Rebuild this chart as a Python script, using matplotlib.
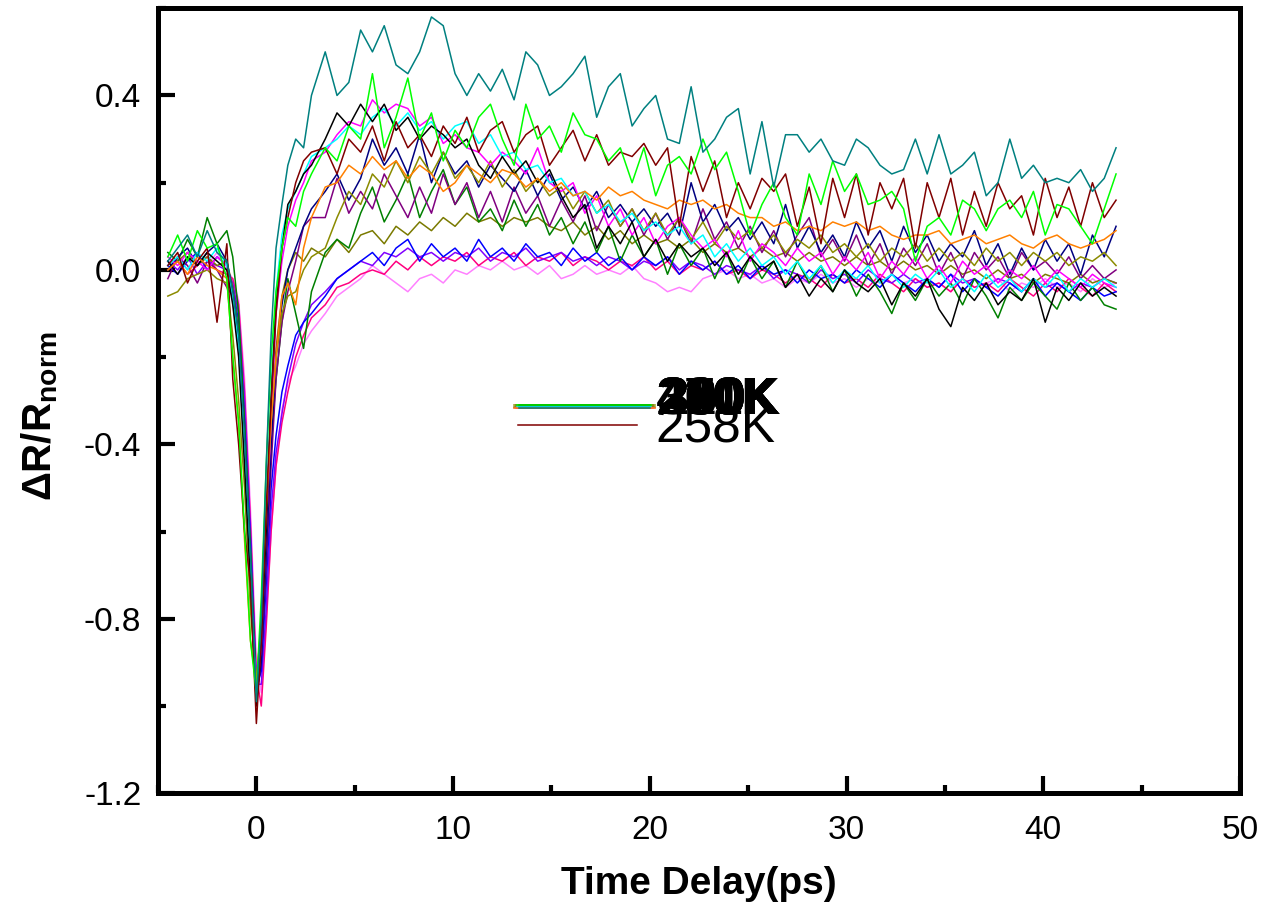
import matplotlib
matplotlib.use("Agg")
import matplotlib.pyplot as plt
from matplotlib.ticker import MultipleLocator

plt.rcParams["font.family"] = ["Liberation Sans", "DejaVu Sans"]
plt.rcParams["mathtext.fontset"] = "custom"
plt.rcParams["mathtext.rm"] = "Liberation Sans"
plt.rcParams["mathtext.bf"] = "Liberation Sans:bold"

# time delay grid (ps)
t_ps = [-4.5, -4.0, -3.5, -3.0, -2.5, -2.0, -1.5,
        -1.2, -0.9, -0.6, -0.3, 0.0, 0.25, 0.5,
        0.75, 1.0, 1.3, 1.6, 2.0, 2.4, 2.8,
        3.5, 4.1, 4.7, 5.3, 5.9, 6.5, 7.1, 7.7, 8.3, 8.9,
        9.5, 10.1, 10.7, 11.3, 11.9, 12.5, 13.1, 13.7, 14.3, 14.9,
        15.5, 16.1, 16.7, 17.3, 17.9, 18.5, 19.1, 19.7, 20.3, 20.9,
        21.5, 22.1, 22.7, 23.3, 23.9, 24.5, 25.1, 25.7, 26.3, 26.9,
        27.5, 28.1, 28.7, 29.3, 29.9, 30.5, 31.1, 31.7, 32.3, 32.9,
        33.5, 34.1, 34.7, 35.3, 35.9, 36.5, 37.1, 37.7, 38.3, 38.9,
        39.5, 40.1, 40.7, 41.3, 41.9, 42.5, 43.1, 43.7]

teal = [0.02, 0.05, 0.08, 0.03, 0.09, 0.04, 0.02,
        -0.05, -0.15, -0.38, -0.65, -0.99, -0.80, -0.45,
        -0.15, 0.05, 0.15, 0.24, 0.30, 0.28, 0.40,
        0.50, 0.40, 0.43, 0.55, 0.50, 0.56, 0.47, 0.45, 0.50, 0.58,
        0.56, 0.45, 0.40, 0.45, 0.41, 0.46, 0.39, 0.50, 0.47, 0.40,
        0.42, 0.45, 0.49, 0.35, 0.42, 0.45, 0.33, 0.37, 0.40, 0.30,
        0.29, 0.42, 0.27, 0.30, 0.35, 0.37, 0.22, 0.34, 0.19, 0.31,
        0.31, 0.27, 0.30, 0.25, 0.24, 0.30, 0.28, 0.24, 0.22, 0.23,
        0.30, 0.22, 0.31, 0.22, 0.24, 0.27, 0.17, 0.20, 0.30, 0.21,
        0.24, 0.20, 0.21, 0.20, 0.23, 0.18, 0.21, 0.28]

lime = [0.03, 0.08, 0.02, 0.09, 0.05, 0.06, -0.02,
        -0.20, -0.35, -0.60, -0.85, -0.97, -0.75, -0.45,
        -0.20, -0.05, 0.05, 0.12, 0.10, 0.18, 0.22,
        0.28, 0.25, 0.33, 0.30, 0.45, 0.28, 0.35, 0.44, 0.30, 0.36,
        0.25, 0.32, 0.28, 0.35, 0.38, 0.30, 0.24, 0.38, 0.30, 0.33,
        0.27, 0.36, 0.31, 0.30, 0.25, 0.28, 0.20, 0.28, 0.17, 0.24,
        0.26, 0.22, 0.30, 0.23, 0.27, 0.18, 0.08, 0.15, 0.20, 0.12,
        0.08, 0.22, 0.15, 0.25, 0.18, 0.22, 0.15, 0.16, 0.18, 0.14,
        0.02, 0.10, 0.12, 0.08, 0.16, 0.14, 0.09, 0.14, 0.16, 0.12,
        0.18, 0.08, 0.15, 0.14, 0.10, 0.06, 0.14, 0.22]

wine = [0.01, 0.04, -0.03, 0.02, 0.05, -0.12, 0.06,
        -0.25, -0.40, -0.60, -0.72, -1.04, -0.85, -0.55,
        -0.30, -0.10, 0.05, 0.12, 0.20, 0.25, 0.27,
        0.28, 0.22, 0.30, 0.27, 0.33, 0.25, 0.34, 0.28, 0.31, 0.26,
        0.33, 0.29, 0.35, 0.27, 0.32, 0.34, 0.27, 0.31, 0.33, 0.24,
        0.28, 0.32, 0.25, 0.31, 0.24, 0.27, 0.26, 0.29, 0.24, 0.28,
        0.10, 0.26, 0.18, 0.25, 0.12, 0.20, 0.14, 0.21, 0.18, 0.22,
        0.10, 0.19, 0.06, 0.21, 0.12, 0.22, 0.08, 0.20, 0.14, 0.21,
        0.05, 0.20, 0.12, 0.21, 0.08, 0.18, 0.10, 0.20, 0.14, 0.17,
        0.08, 0.21, 0.12, 0.19, 0.10, 0.20, 0.12, 0.16]

orange = [0.00, 0.02, -0.01, 0.03, 0.01, 0.00, -0.02,
          -0.20, -0.35, -0.62, -0.85, -0.95, -0.80, -0.55,
          -0.35, -0.20, -0.06, -0.03, -0.08, 0.05, 0.12,
          0.19, 0.20, 0.24, 0.22, 0.26, 0.23, 0.25, 0.21, 0.24, 0.22,
          0.18, 0.20, 0.24, 0.22, 0.20, 0.23, 0.22, 0.19, 0.21, 0.18,
          0.20, 0.17, 0.18, 0.16, 0.19, 0.17, 0.18, 0.16, 0.15, 0.14,
          0.16, 0.15, 0.16, 0.14, 0.15, 0.13, 0.12, 0.12, 0.10, 0.11,
          0.09, 0.10, 0.09, 0.11, 0.10, 0.11, 0.09, 0.10, 0.08, 0.07,
          0.08, 0.08, 0.09, 0.06, 0.07, 0.08, 0.06, 0.07, 0.08, 0.06,
          0.05, 0.07, 0.08, 0.06, 0.05, 0.06, 0.07, 0.09]

black = [0.02, -0.01, 0.03, 0.01, 0.04, 0.02, 0.00,
         -0.08, -0.20, -0.45, -0.72, -1.00, -0.85, -0.60,
         -0.30, -0.08, 0.05, 0.15, 0.18, 0.22, 0.24,
         0.30, 0.36, 0.33, 0.38, 0.34, 0.38, 0.32, 0.35, 0.30, 0.33,
         0.31, 0.28, 0.30, 0.24, 0.21, 0.26, 0.22, 0.25, 0.20, 0.23,
         0.17, 0.12, 0.15, 0.05, 0.10, 0.06, 0.11, 0.03, 0.07, 0.02,
         0.06, 0.03, 0.05, 0.01, 0.04, -0.01, 0.03, 0.00, 0.02, -0.04,
         -0.01, -0.06, -0.02, -0.05, 0.00, -0.03, -0.05, -0.02, -0.08, -0.03,
         -0.06, -0.02, -0.09, -0.13, -0.04, -0.07, -0.03, -0.08, -0.05, -0.07,
         -0.02, -0.12, -0.04, -0.07, -0.03, -0.06, -0.04, -0.06]

cyan = [0.01, 0.03, 0.00, 0.04, 0.02, 0.05, 0.01,
        -0.06, -0.18, -0.42, -0.70, -0.98, -0.82, -0.55,
        -0.28, -0.05, 0.08, 0.14, 0.18, 0.22, 0.26,
        0.28, 0.30, 0.33, 0.31, 0.35, 0.37, 0.33, 0.36, 0.32, 0.34,
        0.30, 0.33, 0.34, 0.29, 0.31, 0.26, 0.27, 0.23, 0.24, 0.20,
        0.21, 0.17, 0.18, 0.13, 0.15, 0.11, 0.13, 0.09, 0.11, 0.08,
        0.10, 0.06, 0.08, 0.03, 0.06, 0.02, 0.05, 0.01, 0.03, -0.01,
        0.02, -0.02, 0.01, -0.03, 0.00, -0.02, 0.01, -0.03, -0.01, -0.04,
        -0.01, -0.03, 0.00, -0.04, -0.02, -0.05, -0.01, -0.04, -0.02, -0.05,
        -0.02, -0.04, -0.01, -0.05, -0.02, -0.04, -0.02, -0.04]

magenta = [0.03, 0.01, 0.04, 0.02, 0.00, 0.03, 0.01,
           -0.07, -0.18, -0.42, -0.70, -0.99, -0.86, -0.60,
           -0.35, -0.10, 0.02, 0.10, 0.16, 0.20, 0.25,
           0.27, 0.31, 0.34, 0.33, 0.39, 0.36, 0.38, 0.37, 0.33, 0.35,
           0.29, 0.31, 0.28, 0.27, 0.24, 0.27, 0.25, 0.22, 0.28, 0.20,
           0.18, 0.20, 0.13, 0.17, 0.10, 0.14, 0.08, 0.12, 0.06, 0.10,
           0.12, 0.08, 0.05, 0.07, 0.03, 0.09, 0.02, 0.06, 0.04, 0.01,
           0.05, 0.02, 0.04, -0.01, 0.03, 0.00, 0.04, -0.02, 0.02, -0.01,
           0.03, -0.02, 0.01, -0.03, 0.02, -0.01, 0.01, -0.03, 0.00, -0.02,
           0.01, -0.03, 0.00, -0.02, -0.04, -0.01, -0.03, -0.04]

navy = [0.00, 0.03, 0.05, 0.01, 0.04, 0.06, 0.02,
        -0.05, -0.15, -0.38, -0.66, -0.98, -0.90, -0.65,
        -0.40, -0.20, -0.08, 0.00, 0.05, 0.10, 0.14,
        0.18, 0.22, 0.16, 0.21, 0.30, 0.24, 0.28, 0.22, 0.31, 0.20,
        0.27, 0.22, 0.25, 0.19, 0.24, 0.21, 0.18, 0.23, 0.17, 0.22,
        0.16, 0.19, 0.14, 0.18, 0.12, 0.15, 0.11, 0.14, 0.10, 0.13,
        0.08, 0.20, 0.11, 0.15, 0.09, 0.12, 0.07, 0.11, 0.06, 0.15,
        0.05, 0.10, 0.04, 0.08, 0.03, 0.11, 0.05, 0.09, 0.02, 0.10,
        0.04, 0.08, 0.02, 0.06, 0.03, 0.09, 0.01, 0.06, -0.01, 0.05,
        0.00, 0.07, 0.02, 0.06, -0.01, 0.08, 0.03, 0.10]

purple = [-0.02, 0.03, 0.01, -0.03, 0.02, 0.00, -0.04,
          -0.06, -0.16, -0.40, -0.68, -0.98, -0.90, -0.68,
          -0.45, -0.25, -0.12, -0.05, 0.02, 0.10, 0.12,
          0.12, 0.21, 0.13, 0.18, 0.14, 0.22, 0.17, 0.12, 0.19, 0.13,
          0.22, 0.15, 0.20, 0.12, 0.18, 0.11, 0.19, 0.13, 0.17, 0.10,
          0.16, 0.11, 0.17, 0.09, 0.15, 0.10, 0.14, 0.08, 0.13, 0.07,
          0.12, 0.06, 0.14, 0.07, 0.11, 0.05, 0.10, 0.04, 0.09, 0.03,
          0.08, 0.12, 0.03, 0.07, 0.02, 0.08, 0.01, 0.06, -0.01, 0.05,
          0.01, 0.06, -0.01, 0.04, -0.02, 0.04, 0.00, 0.03, -0.02, 0.04,
          0.00, 0.02, -0.01, 0.03, -0.02, 0.01, -0.02, 0.00]

olive_hi = [-0.06, -0.05, -0.02, -0.01, 0.00, -0.02, -0.03,
            -0.15, -0.30, -0.50, -0.78, -0.95, -0.80, -0.55,
            -0.35, -0.20, -0.10, -0.06, -0.05, 0.00, 0.03,
            0.05, 0.12, 0.18, 0.15, 0.22, 0.19, 0.25, 0.20, 0.26, 0.22,
            0.27, 0.21, 0.24, 0.20, 0.25, 0.19, 0.23, 0.18, 0.21, 0.17,
            0.19, 0.14, 0.18, 0.13, 0.16, 0.10, 0.14, 0.09, 0.13, 0.08,
            0.12, 0.07, 0.11, 0.06, 0.10, 0.07, 0.09, 0.05, 0.08, 0.04,
            0.07, 0.05, 0.08, 0.04, 0.06, 0.03, 0.06, 0.02, 0.05, 0.03,
            0.06, 0.02, 0.05, 0.02, 0.04, 0.01, 0.05, 0.02, 0.04, 0.01,
            0.04, 0.02, 0.04, 0.01, 0.03, 0.02, 0.04, 0.01]

olive_lo = [0.00, 0.02, 0.04, 0.01, 0.03, 0.01, 0.02,
            -0.04, -0.14, -0.36, -0.64, -0.97, -0.88, -0.64,
            -0.38, -0.18, -0.06, 0.00, 0.04, 0.02, 0.05,
            0.03, 0.07, 0.04, 0.08, 0.09, 0.06, 0.10, 0.08, 0.11, 0.09,
            0.12, 0.10, 0.13, 0.11, 0.12, 0.10, 0.12, 0.11, 0.12, 0.10,
            0.09, 0.11, 0.08, 0.10, 0.07, 0.09, 0.06, 0.08, 0.06, 0.07,
            0.05, 0.07, 0.04, 0.06, 0.04, 0.05, 0.03, 0.05, 0.03, 0.04,
            0.02, 0.04, 0.02, 0.03, 0.01, 0.03, 0.01, 0.02, 0.00, 0.02,
            0.00, 0.01, -0.01, 0.01, -0.01, 0.00, -0.02, 0.00, -0.02, -0.01,
            -0.03, -0.01, -0.02, -0.03, -0.01, -0.03, -0.02, -0.03]

dkgreen = [0.04, 0.02, 0.07, 0.03, 0.12, 0.06, 0.09,
           0.03, -0.10, -0.35, -0.65, -0.97, -0.88, -0.60,
           -0.40, -0.25, -0.12, -0.02, -0.10, -0.18, -0.05,
           0.04, 0.07, 0.05, 0.13, 0.19, 0.11, 0.16, 0.22, 0.12, 0.18,
           0.23, 0.15, 0.19, 0.11, 0.14, 0.09, 0.16, 0.10, 0.15, 0.08,
           0.12, 0.06, 0.11, 0.04, 0.10, 0.02, 0.08, 0.03, 0.07, -0.01,
           0.06, 0.01, 0.05, -0.02, 0.04, -0.03, 0.03, -0.02, 0.02, -0.04,
           0.02, -0.03, 0.01, -0.05, 0.00, -0.06, -0.01, -0.05, -0.10, -0.03,
           -0.07, -0.02, -0.06, -0.03, -0.08, -0.02, -0.06, -0.11, -0.04, -0.07,
           -0.03, -0.06, -0.09, -0.03, -0.07, -0.04, -0.08, -0.09]

blue = [0.01, -0.01, 0.02, 0.04, 0.00, 0.03, 0.01,
        -0.04, -0.12, -0.35, -0.62, -0.96, -0.92, -0.72,
        -0.50, -0.38, -0.28, -0.22, -0.15, -0.12, -0.10,
        -0.06, -0.02, 0.00, 0.02, 0.04, 0.01, 0.05, 0.07, 0.02, 0.06,
        0.03, 0.05, 0.02, 0.07, 0.03, 0.05, 0.02, 0.06, 0.03, 0.04,
        0.01, 0.05, 0.02, 0.04, 0.01, 0.03, 0.00, 0.03, 0.01, 0.03,
        -0.01, 0.02, 0.00, 0.02, -0.01, 0.01, -0.02, 0.01, -0.01, 0.00,
        -0.03, 0.00, -0.02, -0.01, -0.03, 0.00, -0.02, -0.04, -0.01, -0.03,
        -0.05, -0.02, -0.04, -0.01, -0.05, -0.02, -0.04, -0.06, -0.03, -0.05,
        -0.02, -0.06, -0.03, -0.05, -0.07, -0.04, -0.06, -0.05]

violet = [0.02, 0.00, 0.03, -0.01, 0.02, 0.01, 0.00,
          -0.03, -0.10, -0.30, -0.60, -0.95, -0.95, -0.78,
          -0.55, -0.42, -0.33, -0.25, -0.17, -0.12, -0.08,
          -0.05, -0.02, 0.00, 0.02, 0.01, 0.04, 0.03, 0.05, 0.03, 0.04,
          0.02, 0.04, 0.03, 0.05, 0.02, 0.04, 0.03, 0.05, 0.02, 0.03,
          0.04, 0.02, 0.03, 0.01, 0.03, 0.02, 0.00, 0.02, 0.01, 0.03,
          0.00, 0.02, 0.01, -0.01, 0.01, 0.00, -0.01, 0.01, -0.02, 0.00,
          -0.01, -0.03, 0.00, -0.02, -0.01, -0.03, 0.00, -0.02, -0.03, -0.01,
          -0.03, -0.02, -0.04, -0.01, -0.03, -0.02, -0.04, -0.02, -0.03, -0.05,
          -0.02, -0.04, -0.03, -0.05, -0.03, -0.04, -0.02, -0.03]

pinkred = [0.00, 0.02, -0.01, 0.01, 0.03, 0.00, -0.01,
           -0.02, -0.08, -0.28, -0.58, -0.93, -1.00, -0.82,
           -0.60, -0.45, -0.35, -0.28, -0.20, -0.15, -0.11,
           -0.08, -0.04, -0.03, -0.01, 0.00, -0.01, 0.02, 0.00, 0.03, 0.01,
           0.03, 0.02, 0.04, 0.01, 0.03, 0.02, 0.04, 0.01, 0.03, 0.02,
           0.04, 0.01, 0.03, 0.02, 0.00, 0.02, 0.01, 0.03, 0.00, 0.02,
           -0.01, 0.01, 0.00, 0.02, -0.01, 0.00, -0.02, 0.00, -0.01, -0.03,
           -0.01, -0.02, -0.04, -0.01, -0.03, -0.02, -0.04, -0.01, -0.03, -0.05,
           -0.02, -0.04, -0.03, -0.05, -0.02, -0.04, -0.03, -0.05, -0.02, -0.04,
           -0.06, -0.03, -0.05, -0.02, -0.04, -0.06, -0.03, -0.05]

ltpink = [0.01, 0.03, 0.00, 0.02, 0.01, 0.04, 0.00,
          -0.02, -0.07, -0.25, -0.55, -0.90, -0.97, -0.80,
          -0.60, -0.45, -0.32, -0.26, -0.22, -0.17, -0.14,
          -0.10, -0.06, -0.04, -0.02, 0.01, -0.01, -0.03, -0.05, -0.02, -0.01,
          -0.03, 0.00, -0.01, 0.01, 0.00, 0.02, 0.00, 0.01, -0.01, 0.01,
          -0.02, -0.01, 0.01, -0.01, 0.00, -0.01, 0.01, -0.02, -0.03, -0.05,
          -0.04, -0.05, -0.02, -0.01, 0.00, -0.02, -0.01, -0.03, -0.02, -0.04,
          -0.02, -0.03, -0.01, -0.03, -0.02, -0.04, -0.02, -0.03, -0.01, -0.03,
          -0.02, -0.04, -0.03, -0.05, -0.02, -0.04, -0.03, -0.02, -0.05, -0.03,
          -0.04, -0.02, -0.04, -0.03, -0.05, -0.02, -0.04, -0.03]

series = [ltpink, pinkred, violet, blue, olive_lo, dkgreen, purple, navy,
          olive_hi, magenta, cyan, black, orange, wine, lime, teal]
colors = ["#FF80FF", "#FF0080", "#8000FF", "#0000FF", "#7A7A00", "#008000",
          "#800080", "#000080", "#8B8B00", "#FF00FF", "#00FFFF", "#000000",
          "#FF8000", "#800000", "#00FF00", "#008080"]
labels = ["431K", "400K", "330K", "300K", "290K", "280K", "270K", "260K",
          "250K", "240K", "231K", "220K", "210K", "258K", "200K", "230K"]

fig = plt.figure(figsize=(12.64, 9.16), dpi=100)
ax = fig.add_axes([0.125, 0.134, 0.856, 0.857])

for y, c in zip(series, colors):
    ax.plot(t_ps, y, color=c, lw=1.1)

ax.set_xlim(-5, 50)
ax.set_ylim(-1.2, 0.6)
ax.xaxis.set_major_locator(MultipleLocator(10))
ax.xaxis.set_minor_locator(MultipleLocator(5))
ax.yaxis.set_major_locator(MultipleLocator(0.4))
ax.yaxis.set_minor_locator(MultipleLocator(0.2))
ax.yaxis.set_major_formatter(matplotlib.ticker.FuncFormatter(lambda v, p: f"{v:.1f}"))

for s in ax.spines.values():
    s.set_linewidth(3.6)
ax.tick_params(which="major", direction="in", length=12, width=3,
               labelsize=24, top=False, right=False)
ax.tick_params(which="minor", direction="in", length=6, width=3,
               top=False, right=False)
ax.tick_params(axis="x", which="major", pad=16)
ax.tick_params(axis="y", which="major", pad=12)

ax.set_xlabel("Time Delay(ps)", fontsize=28, fontweight="bold", labelpad=14)
ax.set_ylabel(r"$\mathbf{\Delta R/R_{norm}}$", fontsize=29)
ax.yaxis.set_label_coords(-0.091, 0.48)

# overlapping legend block, as in the original export
for i, (c, lab) in enumerate(zip(colors, labels)):
    if lab == "258K":
        ax.plot([0.333, 0.443], [0.469, 0.469], color=c, lw=1.1,
                transform=ax.transAxes, clip_on=False)
        ax.text(0.460, 0.464, lab, transform=ax.transAxes, fontsize=37,
                va="center", ha="left")
    else:
        dx = (i % 4) * 0.0015
        dy = (i % 3) * 0.0015
        ax.plot([0.329 + dx, 0.459 - dx], [0.491 + dy, 0.491 + dy], color=c,
                lw=1.1, transform=ax.transAxes, clip_on=False)
        ax.text(0.460 + (i % 3) * 0.002, 0.500, lab, transform=ax.transAxes,
                fontsize=37, va="center", ha="left")

fig.savefig("out.png", dpi=100)
